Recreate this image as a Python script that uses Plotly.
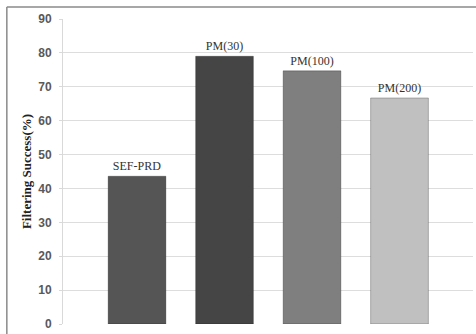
import plotly.graph_objects as go

categories = ["SEF-PRD", "PM(30)", "PM(100)", "PM(200)"]
values = [43.6, 79.0, 74.7, 66.7]
colors = ["#555555", "#454545", "#7f7f7f", "#c0c0c0"]
y_ticks = [0, 10, 20, 30, 40, 50, 60, 70, 80, 90]

fig = go.Figure()
fig.add_trace(go.Bar(
    x=categories, y=values,
    marker=dict(color=colors, line=dict(color="rgba(0,0,0,0.25)", width=1)),
    text=categories, textposition="outside", cliponaxis=False,
    textfont=dict(family="Liberation Serif", size=12, color="#333333"),
    hoverinfo="skip",
))

fig.update_layout(
    width=476, height=334,
    margin=dict(l=63, r=3, t=19, b=7),
    paper_bgcolor="white", plot_bgcolor="white",
    bargap=0.34, showlegend=False,
    xaxis=dict(range=[-0.846, 3.84], showticklabels=False, showgrid=False,
               zeroline=False, showline=False, ticks=""),
    yaxis=dict(range=[0, 90], tickvals=y_ticks, showgrid=True, gridcolor="#dddddd",
               gridwidth=1, zeroline=False, showline=True, linecolor="#d9d9d9",
               ticks="outside", ticklen=3, tickcolor="#d9d9d9", ticklabelstandoff=5,
               ticklabeloverflow="allow",
               tickfont=dict(family="Liberation Sans", size=12, color="#595959", weight="bold"),
               title=dict(text="<b>Filtering Success(%)</b>", standoff=3,
                          font=dict(family="Liberation Serif", size=13, color="#222222"))),
    shapes=[
        dict(type="line", xref="paper", yref="paper", x0=-0.137, x1=1.01, y0=1.039, y1=1.039,
             line=dict(color="#8a8a8a", width=1.5)),
        dict(type="line", xref="paper", yref="paper", x0=-0.137, x1=-0.137, y0=-0.05, y1=1.039,
             line=dict(color="#8a8a8a", width=1.5)),
    ],
)

fig.write_html("out.html", config={"displayModeBar": False},
               post_script="document.body.style.margin='0';document.body.style.overflow='hidden';")
